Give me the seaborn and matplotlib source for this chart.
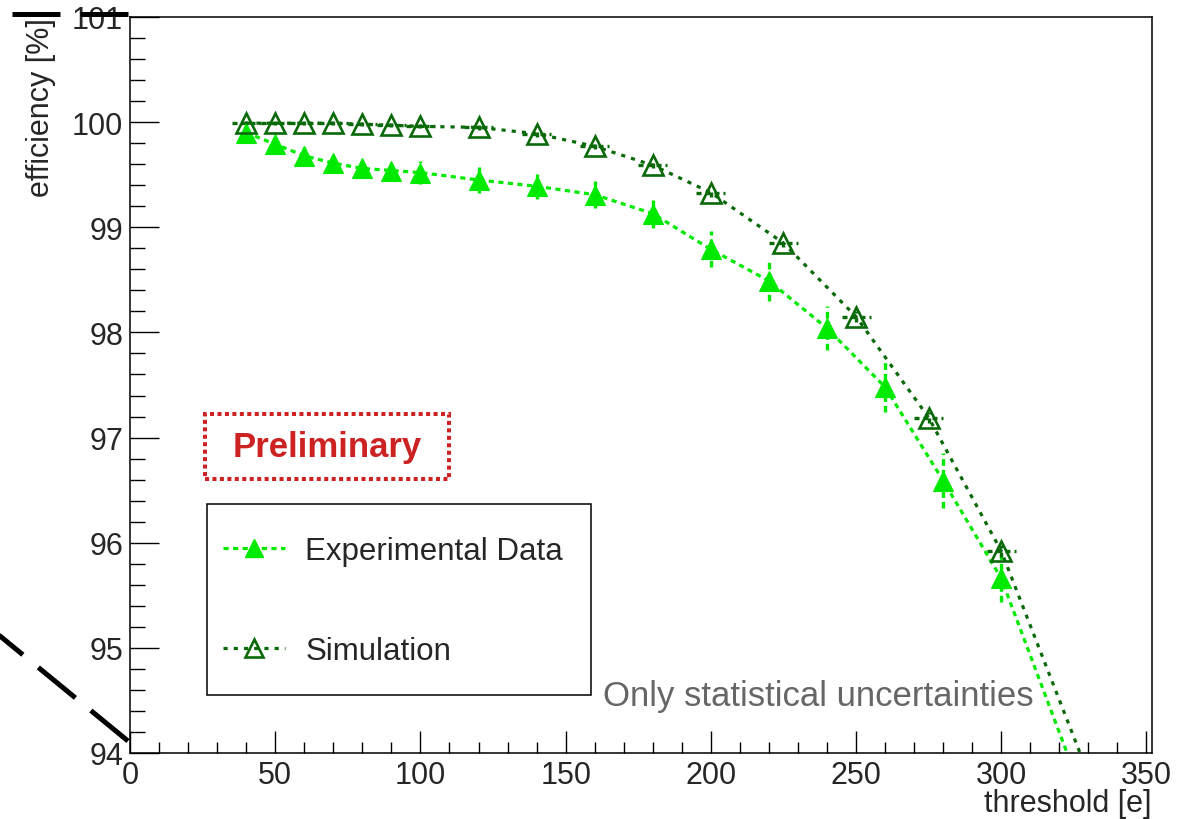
import matplotlib
matplotlib.use("Agg")
import matplotlib.pyplot as plt
from matplotlib.lines import Line2D
from matplotlib.patches import Rectangle
from matplotlib.legend_handler import HandlerLine2D
import pandas as pd
import seaborn as sns

# Measured efficiency vs. discriminator threshold
exp_threshold = [40, 50, 60, 70, 80, 90, 100, 120, 140, 160, 180, 200, 220, 240, 260, 280, 300, 340]
exp_efficiency = [99.90, 99.79, 99.68, 99.61, 99.56, 99.54, 99.52, 99.45, 99.39, 99.31,
                  99.13, 98.79, 98.49, 98.04, 97.48, 96.59, 95.66, 92.73]
exp_error = [0.05, 0.07, 0.08, 0.09, 0.09, 0.10, 0.11, 0.12, 0.12, 0.13,
             0.14, 0.17, 0.19, 0.21, 0.24, 0.26, 0.22, 0.22]

# Simulated efficiency vs. threshold
sim_threshold = [40, 50, 60, 70, 80, 90, 100, 120, 140, 160, 180, 200, 225, 250, 275, 300, 350]
sim_efficiency = [99.99, 99.99, 99.99, 99.99, 99.98, 99.97, 99.96, 99.95, 99.89, 99.77,
                  99.59, 99.33, 98.85, 98.15, 97.19, 95.92, 92.38]
sim_xerror = [5, 5, 5, 5, 5, 5, 5, 5, 5, 5, 5, 5, 5, 5, 5, 5, 5]
sim_yerror = [0.02, 0.02, 0.02, 0.02, 0.02, 0.02, 0.02, 0.02, 0.03, 0.03,
              0.03, 0.04, 0.04, 0.05, 0.05, 0.06, 0.06]

x_ticks = [0, 50, 100, 150, 200, 250, 300, 350]
y_ticks = [94, 95, 96, 97, 98, 99, 100, 101]

label_exp = "Experimental Data"
label_sim = "Simulation"

exp_color = "#00ea00"
sim_color = "#0a6a0a"


class CenteredLineHandler(HandlerLine2D):
    """Line2D legend handler whose sample sits level with the label text."""

    def create_artists(self, legend, orig_handle, xdescent, ydescent, width,
                       height, fontsize, trans):
        artists = super().create_artists(legend, orig_handle, xdescent, ydescent,
                                         width, height, fontsize, trans)
        for a in artists:
            a.set_ydata([y - 6.5 for y in a.get_ydata()])
        return artists


sns.set_theme(style="ticks")
plt.rcParams["font.family"] = ["Liberation Sans", "DejaVu Sans"]

fig = plt.figure(figsize=(12.02, 8.20), dpi=100)
ax = fig.add_axes([0.10815, 0.08049, 0.85025, 0.89756])

df_exp = pd.DataFrame({"threshold": exp_threshold, "efficiency": exp_efficiency})
df_sim = pd.DataFrame({"threshold": sim_threshold, "efficiency": sim_efficiency})

exp_ls = (0, (1.6, 1.4))
sim_ls = (0, (1.3, 1.9))

# error bars (dashed, like the curves)
eb = ax.errorbar(exp_threshold, exp_efficiency, yerr=exp_error, fmt="none",
                 ecolor=exp_color, elinewidth=2.4, capsize=0, zorder=2)
for lc in eb[2]:
    lc.set_linestyle((0, (2.0, 1.2)))
eb = ax.errorbar(sim_threshold, sim_efficiency, xerr=sim_xerror, yerr=sim_yerror,
                 fmt="none", ecolor=sim_color, elinewidth=2.4, capsize=0, zorder=2)
for lc in eb[2]:
    lc.set_linestyle((0, (1.5, 1.2)))

sns.lineplot(data=df_exp, x="threshold", y="efficiency", ax=ax, sort=False,
             estimator=None, errorbar=None, color=exp_color, lw=2.3,
             linestyle=exp_ls, marker="^", markersize=15, markerfacecolor=exp_color,
             markeredgecolor=exp_color, markeredgewidth=0.8, zorder=3)
sns.lineplot(data=df_sim, x="threshold", y="efficiency", ax=ax, sort=False,
             estimator=None, errorbar=None, color=sim_color, lw=2.3,
             linestyle=sim_ls, marker="^", markersize=15, markerfacecolor="none",
             markeredgecolor=sim_color, markeredgewidth=1.9, zorder=4)

ax.set_xlim(0, 351.9)
ax.set_ylim(94, 101)
ax.set_xticks(x_ticks)
ax.set_yticks(y_ticks)
ax.set_xticks(range(0, 351, 10), minor=True)
ax.set_yticks([94 + 0.2 * i for i in range(36)], minor=True)
ax.set_xticklabels([str(v) for v in x_ticks])
ax.set_yticklabels([str(v) for v in y_ticks])

ax.tick_params(axis="x", which="major", direction="in", length=15.8, width=1.0,
               labelsize=22, pad=5, top=False, color="black")
ax.tick_params(axis="x", which="minor", direction="in", length=7.9, width=1.0,
               top=False, color="black")
ax.tick_params(axis="y", which="major", direction="in", length=20.9, width=1.0,
               labelsize=22, pad=5, right=False, color="black")
ax.tick_params(axis="y", which="minor", direction="in", length=10.8, width=1.0,
               right=False, color="black")
for s in ax.spines.values():
    s.set_visible(True)
    s.set_linewidth(1.1)
    s.set_color("black")

ax.set_xlabel("threshold [e]", fontsize=22, loc="right")
ax.xaxis.set_label_coords(1.0, -0.048)
ax.set_ylabel("efficiency [%]", fontsize=22, loc="top")
ax.yaxis.set_label_coords(-0.0724, 1.0)

# legend
handles = [
    Line2D([], [], color=exp_color, ls=exp_ls, lw=2.3, marker="^", markersize=15,
           markerfacecolor=exp_color, markeredgecolor=exp_color),
    Line2D([], [], color=sim_color, ls=sim_ls, lw=2.3, marker="^", markersize=15,
           markerfacecolor="none", markeredgecolor=sim_color, markeredgewidth=1.9),
]
leg = ax.legend(handles, [label_exp, label_sim], loc="upper left",
                bbox_to_anchor=(0.0753, 0.0761, 0.3757, 0.2622), mode="expand",
                borderaxespad=0, fontsize=22.5, borderpad=0.5, handleheight=2.55,
                labelspacing=1.3, handlelength=2.0, handletextpad=0.65,
                markerscale=0.9, numpoints=1, fancybox=False, framealpha=1,
                edgecolor="black",
                handler_map={Line2D: CenteredLineHandler()})
leg.get_frame().set_linewidth(1.1)

# "Preliminary" stamp
ax.add_patch(Rectangle((0.0734, 0.3723), 0.2387, 0.0883, transform=ax.transAxes,
                       fill=False, edgecolor="#cc2222", lw=2.9, ls=(0, (1, 0.85)),
                       zorder=5))
ax.text(0.1928, 0.4158, "Preliminary", transform=ax.transAxes, ha="center",
        va="center", fontsize=25, fontweight="bold", color="#cc2222", zorder=5)

ax.text(0.4628, 0.0652, "Only statistical uncertainties", transform=ax.transAxes,
        ha="left", va="baseline", fontsize=25, color="#666666", zorder=5)

# thick dashed guide lines at the left edge
dash = (0, (9.6, 4.0))
fig.add_artist(Line2D([0.00998, 0.10649], [0.98110, 0.98110], transform=fig.transFigure,
                      color="black", lw=3.6, ls=dash, dash_capstyle="butt", zorder=10))
fig.add_artist(Line2D([0.10649, -0.01664], [0.09512, 0.24317], transform=fig.transFigure,
                      color="black", lw=3.6, ls=dash, dash_capstyle="butt", zorder=10))

fig.savefig("out.png", dpi=100, facecolor="white")
